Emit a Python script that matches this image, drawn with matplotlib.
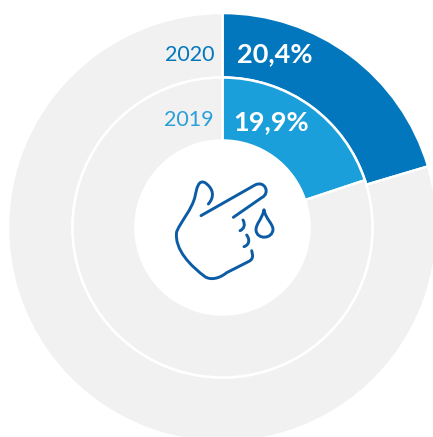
import matplotlib.pyplot as plt
from matplotlib.patches import PathPatch
from matplotlib.path import Path

years = ["2020", "2019"]
values = [20.4, 19.9]
value_labels = ["20,4%", "19,9%"]
ring_colors = ["#0277BD", "#1A9FDB"]
label_colors = ["#0277BD", "#2A9FD8"]
rest_color = "#F1F1F1"
icon_color = "#0B5CA5"

CX, CY = 222.5, 227.5
OUTER_R, MID_R, HOLE_R = 214.5, 150, 87

plt.rcParams["font.family"] = ["Lato", "DejaVu Sans"]

fig = plt.figure(figsize=(4.33, 4.37), dpi=100)
ax = fig.add_axes([0, 0, 1, 1])

wedge_style = {"edgecolor": "white", "linewidth": 1.8}
ax.pie(
    [values[0], 100 - values[0]],
    colors=[ring_colors[0], rest_color],
    radius=OUTER_R,
    startangle=90,
    counterclock=False,
    wedgeprops=dict(width=OUTER_R - MID_R, **wedge_style),
)
ax.pie(
    [values[1], 100 - values[1]],
    colors=[ring_colors[1], rest_color],
    radius=MID_R,
    startangle=90,
    counterclock=False,
    wedgeprops=dict(width=MID_R - HOLE_R, **wedge_style),
)

ax.set_xlim(-CX, 433 - CX)
ax.set_ylim(CY - 437, CY)
ax.set_aspect("equal")
ax.axis("off")


def px(x, y):
    return (x - CX, CY - y)


# подписи годов и значений
ax.text(*px(214, 55), years[0], color=label_colors[0], fontsize=15.5, ha="right", va="center")
ax.text(*px(214, 120), years[1], color=label_colors[1], fontsize=15.5, ha="right", va="center")
ax.text(*px(237, 54), value_labels[0], color="white", fontsize=19.5, fontweight="bold", ha="left", va="center")
ax.text(*px(233, 122), value_labels[1], color="white", fontsize=19.5, fontweight="bold", ha="left", va="center")


def zoomed(x, y):
    return px(150 + x / 3, 160 + y / 3)


def icon_path(points, codes):
    path = Path([zoomed(*p) for p in points], codes)
    ax.add_patch(PathPatch(path, fill=False, edgecolor=icon_color, linewidth=2.1, capstyle="round", joinstyle="round"))


M, L, C = Path.MOVETO, Path.LINETO, Path.CURVE4

# большой палец и ладонь
icon_path(
    [(175, 132),
     (195, 110), (190, 85), (165, 68),
     (145, 58), (140, 85), (135, 110),
     (125, 150), (95, 180), (80, 215),
     (72, 270), (125, 320), (165, 350),
     (180, 360), (205, 358), (230, 338),
     (295, 305),
     (312, 297), (308, 285), (305, 272)],
    [M] + [C] * 15 + [L] + [C] * 3,
)
# указательный палец
icon_path(
    [(153, 167), (315, 75), (345, 60), (362, 100), (335, 113), (250, 172)],
    [M, L, C, C, C, L],
)
# складки
icon_path([(279, 180), (287, 195), (282, 207), (270, 212)], [M, C, C, C])
icon_path([(290, 225), (301, 240), (297, 255), (282, 260)], [M, C, C, C])
# капля
icon_path(
    [(342, 150),
     (335, 180), (318, 190), (318, 210),
     (320, 240), (368, 238), (369, 208),
     (368, 190), (348, 178), (342, 150)],
    [M] + [C] * 9,
)

fig.savefig("out.png", dpi=100)
plt.close(fig)
